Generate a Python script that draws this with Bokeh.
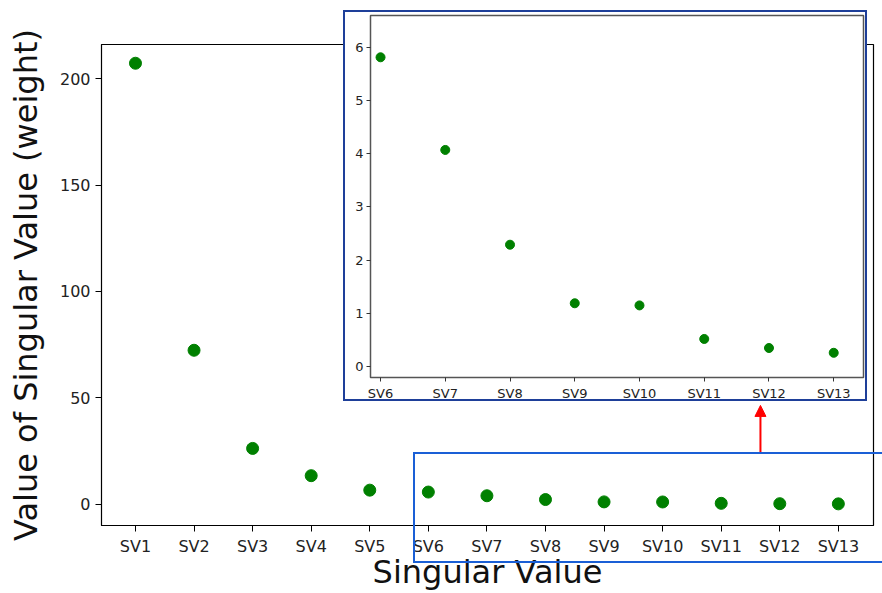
from bokeh.plotting import figure
from bokeh.models import Range1d, FixedTicker, Arrow, NormalHead, ColumnDataSource, Div
from bokeh.embed import file_html
from bokeh.resources import INLINE

# ---- data ----
categories = ["SV1", "SV2", "SV3", "SV4", "SV5", "SV6", "SV7",
              "SV8", "SV9", "SV10", "SV11", "SV12", "SV13"]
sv_values = [207.2, 72.4, 26.3, 13.5, 6.7, 5.81, 4.07, 2.29, 1.19, 1.15, 0.52, 0.35, 0.26]
main_y_ticks = [0, 50, 100, 150, 200]
inset_start = 5  # inset shows SV6 .. SV13
inset_y_ticks = [0, 1, 2, 3, 4, 5, 6]

FONT = "DejaVu Sans"
GREEN = "#008000"

idx = list(range(len(categories)))
src = ColumnDataSource(dict(x=idx, y=sv_values, cat=categories))

# ---- main figure ----
p = figure(width=882, height=593, output_backend="svg", toolbar_location=None,
           x_range=Range1d(-0.58, 12.6), y_range=Range1d(-9.9, 216.0),
           min_border_left=101, min_border_right=9, min_border_top=44, min_border_bottom=68)
p.grid.visible = False
p.outline_line_color = "black"
p.outline_line_width = 1.2
p.background_fill_color = "white"
p.border_fill_color = "white"

p.scatter("x", "y", source=src, size=12, color=GREEN)

p.xaxis.ticker = FixedTicker(ticks=idx)
p.xaxis.major_label_overrides = {i: c for i, c in zip(idx, categories)}
p.yaxis.ticker = FixedTicker(ticks=main_y_ticks)
for ax in (p.xaxis, p.yaxis):
    ax.major_tick_out = 6
    ax.major_tick_in = 0
    ax.minor_tick_line_color = None
    ax.major_label_text_font = FONT
    ax.major_label_text_font_size = "16px"
    ax.major_label_text_color = "#222222"
    ax.axis_label_text_font = FONT
    ax.axis_label_text_font_size = "32px"
    ax.axis_label_text_font_style = "normal"
    ax.axis_label_text_color = "#111111"
    ax.axis_line_color = "black"
p.xaxis.axis_label = "Singular Value"
p.yaxis.axis_label = "Value of Singular Value (weight)"
p.xaxis.major_label_standoff = 5
p.xaxis.axis_label_standoff = -6
p.yaxis.major_label_standoff = 5
p.yaxis.axis_label_standoff = 12

# arrow from the highlighted region up to the inset
arrow = Arrow(end=NormalHead(size=11, fill_color="red", line_color="red"),
              x_start=10.67, y_start=24.4, x_end=10.67, y_end=46.5,
              line_color="red", line_width=2)
p.add_layout(arrow)

# ---- inset figure ----
isrc = ColumnDataSource(dict(x=idx[inset_start:], y=sv_values[inset_start:]))
ins = figure(width=524, height=391, output_backend="svg", toolbar_location=None,
             x_range=Range1d(inset_start - 0.155, len(categories) - 1 + 0.46),
             y_range=Range1d(-0.204, 6.595),
             min_border_left=25, min_border_right=6, min_border_top=3, min_border_bottom=22,
             styles={"position": "absolute", "left": "343px", "top": "10px",
                     "border": "2px solid #1e3f99", "background": "white"})
ins.grid.visible = False
ins.outline_line_color = "#555555"
ins.outline_line_width = 1.5
ins.background_fill_color = "white"
ins.border_fill_color = "white"
ins.scatter("x", "y", source=isrc, size=9, color=GREEN)
ins.xaxis.ticker = FixedTicker(ticks=idx[inset_start:])
ins.xaxis.major_label_overrides = {i: categories[i] for i in idx[inset_start:]}
ins.yaxis.ticker = FixedTicker(ticks=inset_y_ticks)
for ax in (ins.xaxis, ins.yaxis):
    ax.major_tick_out = 4
    ax.major_tick_in = 0
    ax.minor_tick_line_color = None
    ax.major_label_text_font = FONT
    ax.major_label_text_font_size = "13px"
    ax.major_label_text_color = "#222222"
    ax.axis_line_color = "#555555"
    ax.major_tick_line_color = "#333333"
ins.xaxis.major_label_standoff = 4
ins.yaxis.major_label_standoff = 3

# highlight box around SV6..SV13 in the main chart
hl = Div(text="", width=469, height=111,
         styles={"position": "absolute", "left": "413px", "top": "452px", "margin": "0",
                 "padding": "0", "border": "2px solid #1a5fd6", "border-right": "none",
                 "box-sizing": "border-box", "pointer-events": "none"})

open("out.html", "w").write(file_html([p, ins, hl], INLINE))
